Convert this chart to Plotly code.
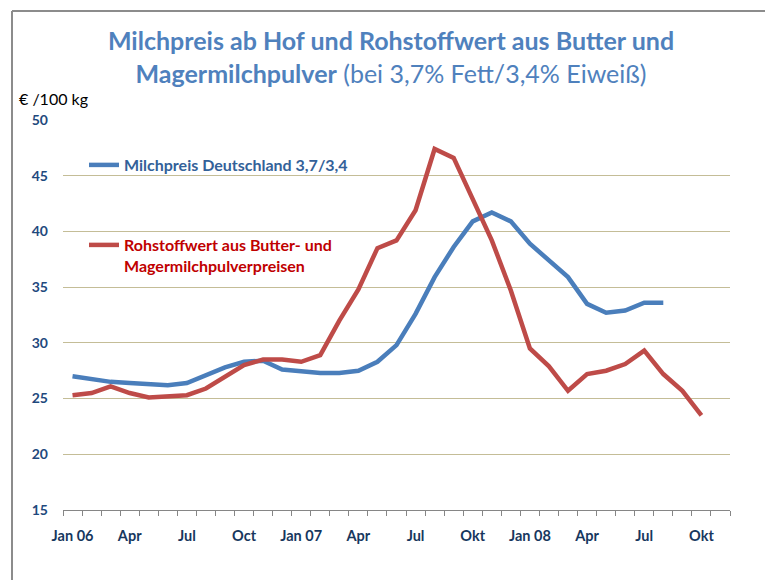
import plotly.graph_objects as go

# ---- data ----
months = [f"{m} {y}" for y in ("06", "07", "08")
          for m in ("Jan", "Feb", "Mär", "Apr", "Mai", "Jun", "Jul", "Aug", "Sep", "Okt", "Nov", "Dez")][:35]
tick_idx = [0, 3, 6, 9, 12, 15, 18, 21, 24, 27, 30, 33]
tick_labels = ["Jan 06", "Apr", "Jul", "Oct", "Jan 07", "Apr", "Jul", "Okt", "Jan 08", "Apr", "Jul", "Okt"]

milchpreis = [27.0, 26.7, 26.5, 26.4, 26.3, 26.2, 26.4, 27.1, 27.8, 28.3, 28.4, 27.6,
              27.4, 27.3, 27.3, 27.5, 28.3, 29.8, 32.6, 35.9, 38.6, 40.9, 41.7, 40.9,
              38.9, 37.4, 35.9, 33.5, 32.7, 32.9, 33.6, 33.6]
rohstoffwert = [25.3, 25.5, 26.1, 25.5, 25.1, 25.2, 25.3, 25.9, 27.0, 28.0, 28.5, 28.5,
                28.3, 28.9, 32.0, 34.8, 38.5, 39.2, 41.9, 47.4, 46.6, 42.8, 39.2, 34.7,
                29.5, 27.9, 25.7, 27.2, 27.5, 28.1, 29.3, 27.2, 25.7, 23.5]

FONT = "Lato, Carlito, Calibri, sans-serif"

x_idx = list(range(len(months)))

fig = go.Figure()
fig.add_trace(go.Scatter(
    x=x_idx[:len(milchpreis)], y=milchpreis, mode="lines",
    name="Milchpreis Deutschland 3,7/3,4",
    line=dict(color="#4A7EBB", width=4.5),
    legend="legend", showlegend=True,
))
fig.add_trace(go.Scatter(
    x=x_idx[:len(rohstoffwert)], y=rohstoffwert, mode="lines",
    name="Rohstoffwert aus Butter- und<br>Magermilchpulverpreisen",
    line=dict(color="#BE4B48", width=4.5),
    legend="legend2", showlegend=True,
))


def px_x(p):
    return (p - 63) / 667


def px_y(p):
    return (510 - p) / 390


fig.update_layout(
    width=765, height=580,
    margin=dict(l=63, r=35, t=120, b=70),
    paper_bgcolor="white", plot_bgcolor="white",
    font=dict(family=FONT),
    showlegend=True,
    title=dict(
        text="<b>Milchpreis ab Hof und Rohstoffwert aus Butter und</b><br>"
             "<b>Magermilchpulver</b> (bei 3,7% Fett/3,4% Eiweiß)",
        x=391 / 765, xanchor="center", xref="container",
        y=1 - 50 / 580, yanchor="top", yref="container",
        font=dict(family=FONT, size=25, color="#4F81BD"),
    ),
    xaxis=dict(
        range=[-0.5, len(months) - 0.5],
        tickmode="array", tickvals=tick_idx, ticktext=tick_labels,
        ticks="", showgrid=False, zeroline=False,
        showline=True, linecolor="#868686", linewidth=1,
        tickfont=dict(family=FONT, size=14.5, color="#17375E", weight="bold"),
        ticklabelstandoff=13,
        minor=dict(tickmode="linear", tick0=-0.5, dtick=1, ticks="outside",
                   ticklen=5, tickcolor="#868686", tickwidth=1, showgrid=False),
    ),
    yaxis=dict(
        range=[15, 50], tickmode="linear", tick0=15, dtick=5,
        showgrid=True, gridcolor="#C4BD97", gridwidth=1,
        zeroline=False, showline=False, ticks="",
        tickfont=dict(family=FONT, size=14, color="#1F497D", weight="bold"),
        ticklabelstandoff=14,
    ),
    legend=dict(
        x=px_x(84), xanchor="left", y=px_y(148), yanchor="top",
        bgcolor="rgba(0,0,0,0)", borderwidth=0,
        font=dict(family=FONT, size=16, color="#336199", weight="bold"),
    ),
    legend2=dict(
        x=px_x(84), xanchor="left", y=px_y(228), yanchor="top",
        bgcolor="rgba(0,0,0,0)", borderwidth=0, valign="top",
        font=dict(family=FONT, size=16, color="#C00000", weight="bold"),
    ),
    annotations=[dict(
        text="€ /100 kg", x=px_x(17), xanchor="left", y=px_y(98), yanchor="middle",
        xref="paper", yref="paper",
        showarrow=False, font=dict(family=FONT, size=16, color="#000000"),
    )],
)

# outer chart frame (clipped on the right and bottom, as in the reference)
fig.add_shape(type="line", xref="paper", yref="paper",
              x0=px_x(12), x1=px_x(766), y0=px_y(11), y1=px_y(11),
              line=dict(color="#8C8C8C", width=2))
fig.add_shape(type="line", xref="paper", yref="paper",
              x0=px_x(12), x1=px_x(12), y0=px_y(11), y1=px_y(581),
              line=dict(color="#8C8C8C", width=2))

fig.write_html("out.html", config={"displayModeBar": False},
               post_script="document.body.style.margin='0';")
